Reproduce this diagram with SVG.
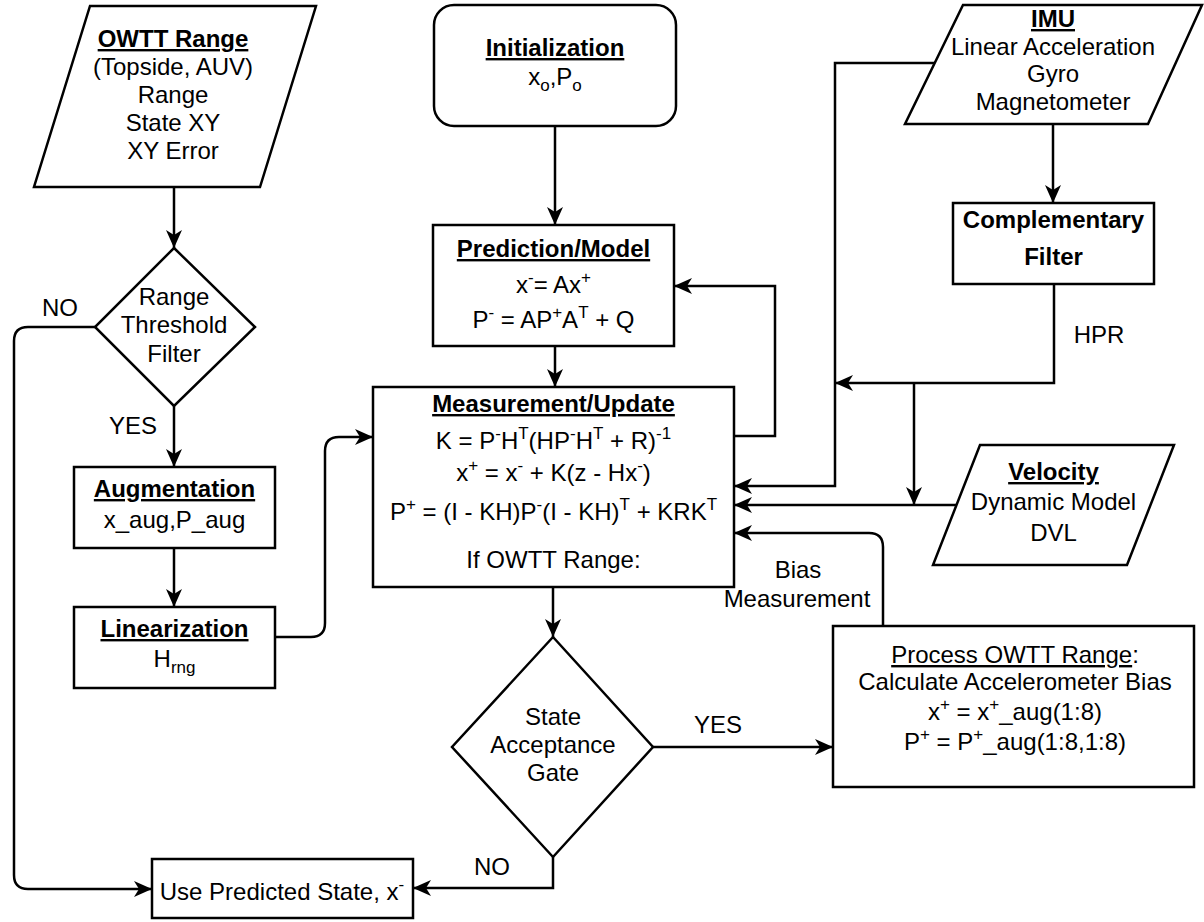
<svg xmlns="http://www.w3.org/2000/svg" width="1204" height="922" viewBox="0 0 1204 922">
<style>
text{font-family:"Liberation Sans",Arial,Helvetica,sans-serif;font-size:24px;fill:#000;text-anchor:middle}
.b{font-weight:bold}
.u{text-decoration:underline}
.s{font-size:17px}
.shape{fill:#fff;stroke:#000;stroke-width:2.5}
.conn path{fill:none;stroke:#000;stroke-width:2.5}
</style>
<defs>
<marker id="ah" viewBox="0 0 18 16" refX="18" refY="8" markerWidth="18" markerHeight="16" markerUnits="userSpaceOnUse" orient="auto"><path d="M0,0 L18,8 L0,16 L5,8 Z" fill="#000"/></marker>
</defs>
<rect width="1204" height="922" fill="#fff"/>
<g class="conn" id="connectors">
<path d="M174,187 V248" marker-end="url(#ah)"/>
<path d="M174,406 V467" marker-end="url(#ah)"/>
<path d="M174,548 V607" marker-end="url(#ah)"/>
<path d="M275,637 H311 Q325,637 325,623 V451 Q325,437 339,437 H373" marker-end="url(#ah)"/>
<path d="M95,327 H28 Q14,327 14,341 V875 Q14,889 28,889 H152" marker-end="url(#ah)"/>
<path d="M555,126 V225" marker-end="url(#ah)"/>
<path d="M555,346 V387" marker-end="url(#ah)"/>
<path d="M734,436 H775 V286 H674" marker-end="url(#ah)"/>
<path d="M553,587 V637" marker-end="url(#ah)"/>
<path d="M653,747 H833" marker-end="url(#ah)"/>
<path d="M553,857 V888 H413" marker-end="url(#ah)"/>
<path d="M935,63 H835 V486 H734" marker-end="url(#ah)"/>
<path d="M1053,124 V203" marker-end="url(#ah)"/>
<path d="M1054,284 V383 H835" marker-end="url(#ah)"/>
<path d="M914,383 V505" marker-end="url(#ah)"/>
<path d="M956,505 H734" marker-end="url(#ah)"/>
<path d="M883,626 V547 Q883,533 869,533 H734" marker-end="url(#ah)"/>
</g>
<g id="owtt">
<polygon class="shape" points="90,6 316,6 260,187 34,187"/>
<text x="173" y="47" class="b u">OWTT Range</text>
<text x="173" y="75">(Topside, AUV)</text>
<text x="173" y="103">Range</text>
<text x="173" y="131">State XY</text>
<text x="173" y="159">XY Error</text>
</g>
<g id="range-filter">
<polygon class="shape" points="174,248 255,327 174,406 95,327"/>
<text x="174" y="305">Range</text>
<text x="174" y="333">Threshold</text>
<text x="174" y="362">Filter</text>
</g>
<g id="augmentation">
<rect class="shape" x="74" y="467" width="201" height="81"/>
<text x="174.5" y="497" class="b u">Augmentation</text>
<text x="174.5" y="528">x_aug,P_aug</text>
</g>
<g id="linearization">
<rect class="shape" x="74" y="607" width="201" height="81"/>
<text x="174.5" y="637" class="b u">Linearization</text>
<text x="174.5" y="667">H<tspan class="s" dy="6">rng</tspan></text>
</g>
<g id="use-predicted">
<rect class="shape" x="152" y="859" width="261" height="59"/>
<text x="282" y="900">Use Predicted State, x<tspan class="s" dy="-10">-</tspan></text>
</g>
<g id="initialization">
<rect class="shape" x="434" y="5" width="242" height="121" rx="20"/>
<text x="555" y="56" class="b u">Initialization</text>
<text x="555" y="85">x<tspan class="s" dy="6">o</tspan><tspan dy="-6">,P</tspan><tspan class="s" dy="6">o</tspan></text>
</g>
<g id="prediction">
<rect class="shape" x="433" y="225" width="241" height="121"/>
<text x="553.5" y="257" class="b u">Prediction/Model</text>
<text x="553.5" y="293">x<tspan class="s" dy="-10">-</tspan><tspan dy="10">= Ax</tspan><tspan class="s" dy="-10">+</tspan></text>
<text x="553.5" y="328">P<tspan class="s" dy="-10">-</tspan><tspan dy="10"> = AP</tspan><tspan class="s" dy="-10">+</tspan><tspan dy="10">A</tspan><tspan class="s" dy="-10">T</tspan><tspan dy="10"> + Q</tspan></text>
</g>
<g id="measurement">
<rect class="shape" x="373" y="387" width="361" height="200"/>
<text x="553.5" y="412" class="b u">Measurement/Update</text>
<text x="553.5" y="449">K = P<tspan class="s" dy="-10">-</tspan><tspan dy="10">H</tspan><tspan class="s" dy="-10">T</tspan><tspan dy="10">(HP</tspan><tspan class="s" dy="-10">-</tspan><tspan dy="10">H</tspan><tspan class="s" dy="-10">T</tspan><tspan dy="10"> + R)</tspan><tspan class="s" dy="-10">-1</tspan></text>
<text x="553.5" y="481">x<tspan class="s" dy="-10">+</tspan><tspan dy="10"> = x</tspan><tspan class="s" dy="-10">-</tspan><tspan dy="10"> + K(z - Hx</tspan><tspan class="s" dy="-10">-</tspan><tspan dy="10">)</tspan></text>
<text x="553.5" y="520">P<tspan class="s" dy="-10">+</tspan><tspan dy="10"> = (I - KH)P</tspan><tspan class="s" dy="-10">-</tspan><tspan dy="10">(I - KH)</tspan><tspan class="s" dy="-10">T</tspan><tspan dy="10"> + KRK</tspan><tspan class="s" dy="-10">T</tspan></text>
<text x="553.5" y="568">If OWTT Range:</text>
</g>
<g id="gate">
<polygon class="shape" points="553,637 653,747 553,857 452,747"/>
<text x="553" y="725">State</text>
<text x="553" y="753">Acceptance</text>
<text x="553" y="781">Gate</text>
</g>
<g id="imu">
<polygon class="shape" points="963,5 1202,5 1148,124 905,124"/>
<text x="1053" y="27" class="b u">IMU</text>
<text x="1053" y="55">Linear Acceleration</text>
<text x="1053" y="82">Gyro</text>
<text x="1053" y="110">Magnetometer</text>
</g>
<g id="complementary">
<rect class="shape" x="953" y="203" width="201" height="81"/>
<text x="1053.5" y="228" class="b">Complementary</text>
<text x="1053.5" y="265" class="b">Filter</text>
</g>
<g id="velocity">
<polygon class="shape" points="980,445 1174,445 1127,565 933,565"/>
<text x="1053.5" y="480" class="b u">Velocity</text>
<text x="1053.5" y="510">Dynamic Model</text>
<text x="1053.5" y="541">DVL</text>
</g>
<g id="process">
<rect class="shape" x="833" y="626" width="361" height="161"/>
<text x="1015" y="663"><tspan class="u">Process OWTT Range</tspan>:</text>
<text x="1015" y="690">Calculate Accelerometer Bias</text>
<text x="1015" y="720">x<tspan class="s" dy="-10">+</tspan><tspan dy="10"> = x</tspan><tspan class="s" dy="-10">+</tspan><tspan dy="10">_aug(1:8)</tspan></text>
<text x="1015" y="750">P<tspan class="s" dy="-10">+</tspan><tspan dy="10"> = P</tspan><tspan class="s" dy="-10">+</tspan><tspan dy="10">_aug(1:8,1:8)</tspan></text>
</g>
<g id="labels">
<text x="60" y="316">NO</text>
<text x="133" y="434">YES</text>
<text x="1099" y="343">HPR</text>
<text x="798" y="578">Bias</text>
<text x="797" y="607">Measurement</text>
<text x="718" y="733">YES</text>
<text x="492" y="875">NO</text>
</g>
</svg>
